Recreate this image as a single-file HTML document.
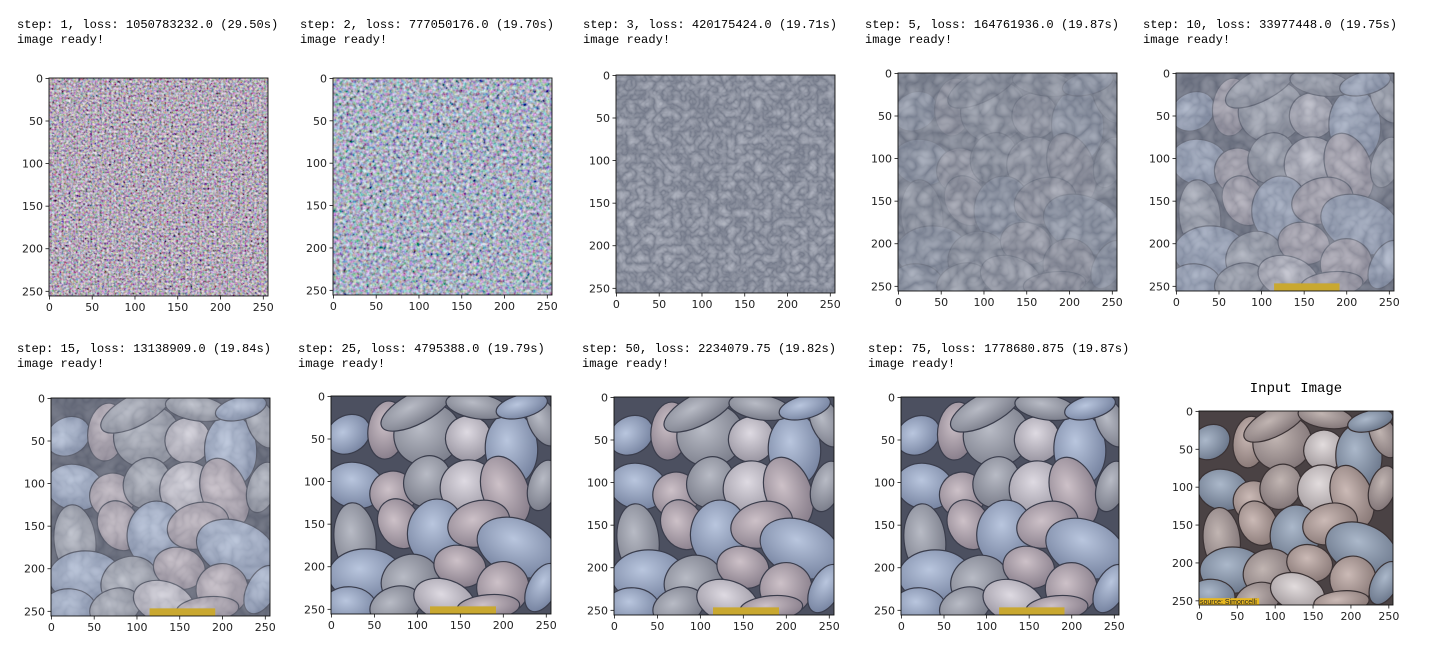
<!DOCTYPE html>
<html><head><meta charset="utf-8"><style>
html,body{margin:0;padding:0;background:#fff;width:1446px;height:656px;overflow:hidden}
svg{display:block}
.cap{font-family:"Liberation Mono","DejaVu Sans Mono",monospace;font-size:12.1px;fill:#000}
.tk{font-family:"DejaVu Sans","Liberation Sans",sans-serif;font-size:11px;fill:#222}
</style></head><body>
<svg id="fig" width="1446" height="656" viewBox="0 0 1446 656" xmlns="http://www.w3.org/2000/svg">
<defs>
<filter id="noiseA" x="0" y="0" width="100%" height="100%"><feTurbulence type="fractalNoise" baseFrequency="0.42" numOctaves="2" seed="3"/><feColorMatrix values="1.1 0.35 0.35 0 -0.45  0.35 1.1 0.35 0 -0.5  0.35 0.35 1.1 0 -0.42  0 0 0 0 1"/></filter>
<filter id="noiseB" x="0" y="0" width="100%" height="100%"><feTurbulence type="fractalNoise" baseFrequency="0.3" numOctaves="2" seed="7"/><feColorMatrix values="1.1 0.35 0.35 0 -0.5  0.35 1.1 0.35 0 -0.46  0.35 0.35 1.1 0 -0.36  0 0 0 0 1"/></filter>
<filter id="noiseC" x="0" y="0" width="100%" height="100%"><feTurbulence type="turbulence" baseFrequency="0.11" numOctaves="2" seed="11"/><feColorMatrix values="0 0 0 0.8 0.3  0 0 0 0.8 0.33  0 0 0 0.8 0.4  0 0 0 0 1"/></filter>
<filter id="noiseD" x="0" y="0" width="100%" height="100%"><feTurbulence type="turbulence" baseFrequency="0.06" numOctaves="2" seed="5"/><feColorMatrix values="0 0 0 0.7 0.28  0 0 0 0.7 0.31  0 0 0 0.7 0.38  0 0 0 0 1"/></filter>
</defs>
</svg>
<script>
const NS='http://www.w3.org/2000/svg';
const fig=document.getElementById('fig');
const defs=fig.querySelector('defs');
const stepLabels=["step: 1, loss: 1050783232.0 (29.50s)","step: 2, loss: 777050176.0 (19.70s)","step: 3, loss: 420175424.0 (19.71s)","step: 5, loss: 164761936.0 (19.87s)","step: 10, loss: 33977448.0 (19.75s)","step: 15, loss: 13138909.0 (19.84s)","step: 25, loss: 4795388.0 (19.79s)","step: 50, loss: 2234079.75 (19.82s)","step: 75, loss: 1778680.875 (19.87s)"];
const tickValues=[0,50,100,150,200,250];
const panels=[[49,78,219,218,17,28,'A'],[333,78,219,217,300,28,'B'],[616,75,219,218,583,28,'C'],[898,73,219,218,865,28,'D'],[1176,73,218,218,1143,28,'E'],
[51,398,219,218,17,352,'F'],[331,396,220,218,298,352,'G'],[614,397,220,218,582,352,'H'],[901,397,218,218,868,352,'H'],[1199,411,194,194,0,0,'I']];
const pebbles=[[20,45,22,18,0],[65,40,18,28,1],[112,45,32,30,2],[160,50,22,22,3],[210,62,25,35,0],[247,30,14,25,2],
[28,105,28,22,0],[72,115,22,22,1],[112,100,22,25,2],[160,108,27,27,3],[203,112,22,35,1],[247,105,14,25,2],
[28,168,20,35,2],[80,150,20,25,1],[122,160,27,32,0],[172,150,30,22,1],[217,178,40,27,0],
[40,210,35,25,0],[92,217,28,25,2],[150,200,25,20,1],[200,225,25,25,1],[246,225,14,25,0],
[22,246,25,18,0],[75,246,25,18,2],[132,240,30,20,3],[183,248,30,12,1],[100,14,38,15,2],[170,12,30,12,2],[222,12,25,11,0]];
const pebbleColors=[["#b9c6de","#7683a0"],["#cdc1c8","#877d8a"],["#b8bbc5","#7a7d8a"],["#dedae2","#9894a0"]];
const inputColors=[["#abb8ca","#6a768a"],["#cbbab6","#887876"],["#c1b5b2","#817577"],["#e2dcdd","#9f979a"]];
function el(t,a,p){const e=document.createElementNS(NS,t);for(const k in a)e.setAttribute(k,a[k]);(p||fig).appendChild(e);return e;}
function grads(cols,pre){cols.forEach((c,i)=>{const g=el('radialGradient',{id:pre+i,cx:'42%',cy:'38%',r:'65%'},defs);el('stop',{offset:'0','stop-color':c[0]},g);el('stop',{offset:'1','stop-color':c[1]},g);});}
grads(pebbleColors,'pg');grads(inputColors,'ig');
panels.forEach((p,i)=>{
  const [x,y,w,h,cx,cy,kind]=p;
  const g=el('g',{});
  
  
  if(kind!=='I'){
    const t1=el('text',{x:cx,y:cy,class:'cap'},g);t1.textContent=stepLabels[i];
    
    
    const t2=el('text',{x:cx,y:cy+15,class:'cap'},g);t2.textContent='image ready!';
    
    
  } else {
    const t=el('text',{x:x+w/2,y:392,class:'cap','text-anchor':'middle'},g);t.textContent='Input Image';
    t.style.fontSize='14px';
    
    
  }
  const clip=el('clipPath',{id:'c'+i},defs);el('rect',{x:x,y:y,width:w,height:h},clip);
  const im=el('g',{'clip-path':'url(#c'+i+')'},g);
  
  
  const sx=w/256, sy=h/256;
  if(kind==='A'||kind==='B'){
    el('rect',{x:x,y:y,width:w,height:h,filter:'url(#noise'+kind+')'},im);
  } else if(kind==='C'){
    el('rect',{x:x,y:y,width:w,height:h,filter:'url(#noiseC)'},im);
    el('rect',{x:x,y:y,width:w,height:h,fill:'#3c4254',opacity:0.38},im);
  } else {
    const isIn=kind==='I';
    el('rect',{x:x,y:y,width:w,height:h,fill:isIn?'#4a4244':'#4c5060'},im);
    pebbles.forEach((pb,j)=>{
      const ox=isIn?((j*7)%11)-5:0, oy=isIn?((j*5)%9)-4:0;
      const ex=x+(pb[0]+ox)*sx, ey=y+(pb[1]+oy)*sy;
      el('ellipse',{cx:ex,cy:ey,rx:pb[2]*sx*1.22,ry:pb[3]*sy*1.22,fill:'url(#'+(isIn?'ig':'pg')+pb[4]+')',stroke:isIn?'#3a3234':'#3a3d4c','stroke-width':1.2,transform:'rotate('+((j*37)%60-30)+' '+ex+' '+ey+')'},im);
    });
    if(kind==='D'){el('rect',{x:x,y:y,width:w,height:h,filter:'url(#noiseD)',opacity:0.8},im);el('rect',{x:x,y:y,width:w,height:h,fill:'#3c4254',opacity:0.3},im);}
    if(kind==='E'){el('rect',{x:x,y:y,width:w,height:h,filter:'url(#noiseD)',opacity:0.5},im);el('rect',{x:x,y:y,width:w,height:h,fill:'#3c4254',opacity:0.15},im);}
    if(kind==='F'){el('rect',{x:x,y:y,width:w,height:h,filter:'url(#noiseD)',opacity:0.3},im);}
    if(kind!=='I'&&kind!=='D'){el('rect',{x:x+w*0.45,y:y+h*0.965,width:w*0.3,height:h*0.035,fill:'#c9a830'},im);}
    if(isIn){el('rect',{x:x,y:y+h*0.965,width:w*0.31,height:h*0.035,fill:'#e8b820'},im);
      const s=el('text',{x:x+1,y:y+h-1,'font-size':'7','font-family':'Liberation Sans,sans-serif',fill:'#222'},im);s.textContent='source: Simoncelli';}
  }
  el('rect',{x:x,y:y,width:w,height:h,fill:'none',stroke:'#111','stroke-width':0.9},g);
  const ax=g;
  tickValues.forEach(v=>{
    const px=x+(v+0.5)/256*w, py=y+(v+0.5)/256*h;
    el('line',{x1:px,y1:y+h,x2:px,y2:y+h+3.5,stroke:'#111','stroke-width':0.8},ax);
    const tx=el('text',{x:px,y:y+h+15,class:'tk','text-anchor':'middle'},ax);tx.textContent=v;
    
    
    el('line',{x1:x,y1:py,x2:x-3.5,y2:py,stroke:'#111','stroke-width':0.8},ax);
    const ty=el('text',{x:x-6,y:py+4,class:'tk','text-anchor':'end'},ax);ty.textContent=v;
    
    
  });
});
</script>
</body></html>
